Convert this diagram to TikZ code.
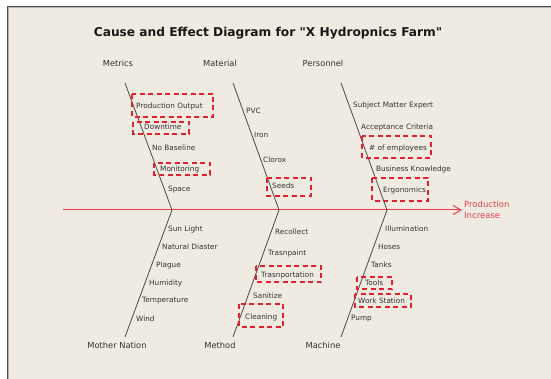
\documentclass[tikz,border=0pt]{standalone}
\usepackage{fontspec}
\setmainfont{DejaVu Sans}
\newfontfamily\titlefont{DejaVu Sans}[Ligatures=TeXOff]
\usetikzlibrary{arrows.meta}
\definecolor{bgc}{HTML}{EFEBE2}
\definecolor{txt}{HTML}{333333}
\definecolor{bonec}{HTML}{4A4A4A}
\definecolor{hlred}{HTML}{E3202C}
\definecolor{spinered}{HTML}{E8404A}
\definecolor{effred}{HTML}{E4414E}
\tikzset{
  item/.style={anchor=west,inner sep=0pt,text=txt,font=\fontsize{7.3}{8}\selectfont},
  cat/.style={inner sep=0pt,text=txt,font=\fontsize{8.3}{9}\selectfont},
  bone/.style={draw=bonec,line width=0.8pt},
  hl/.style={draw=hlred,line width=1.7pt,dash pattern=on 5pt off 3.5pt},
  spine/.style={draw=spinered,line width=1pt,-{Straight Barb[length=8pt,width=9pt,line width=1pt]}},
}
\begin{document}
\begin{tikzpicture}[x=1pt,y=-1pt]
\useasboundingbox (0,0) rectangle (551,379);
\fill[white] (0,0) rectangle (551,379);
\fill[bgc] (7,6) rectangle (551,379);
\draw[black!70,line width=1pt] (551,6.5) -- (7.5,6.5) -- (7.5,379);
\draw[black!30,line width=0.8pt] (551,7.5) -- (8.5,7.5) -- (8.5,379);

\node[inner sep=0pt,text=black!90,font=\titlefont\bfseries\fontsize{12.2}{14}\selectfont] (title) at (268,33) {Cause and Effect Diagram for "X Hydropnics Farm"};

% categories
\node[cat] (metrics) at (118,63) {Metrics};
\node[cat] (material) at (220,63) {Material};
\node[cat] (personnel) at (323,63) {Personnel};
\node[cat] (mother) at (117,345) {Mother Nation};
\node[cat] (method) at (220,345) {Method};
\node[cat] (machine) at (323,345) {Machine};

% bone coordinates
\coordinate (t1) at (125,83); \coordinate (j1) at (172,210); \coordinate (b1) at (125,337);
\coordinate (t2) at (233,83); \coordinate (j2) at (279,210); \coordinate (b2) at (233,337);
\coordinate (t3) at (341,83); \coordinate (j3) at (387,210); \coordinate (b3) at (341,337);
\coordinate (s0) at (63,210); \coordinate (s1) at (462,210);

\draw[spine] (s0) -- (s1);
\foreach \i in {1,2,3}{
  \draw[bone] (t\i) -- (j\i) -- (b\i);
}

\node[anchor=west,inner sep=0pt,text=effred,font=\fontsize{8.5}{10}\selectfont,align=left] (effect) at (464,210) {Production\\[1.2pt]Increase};

% Metrics
\foreach \t/\x/\y [count=\i] in {Production Output/136/106, Downtime/144/127, No Baseline/152/148, Monitoring/160/169, Space/168/190}
  \node[item] (me\i) at (\x,\y) {\t};
% Material
\foreach \t/\x/\y [count=\i] in {PVC/246/111, Iron/254/135, Clorox/263/160, Seeds/272/186}
  \node[item] (ma\i) at (\x,\y) {\t};
% Personnel
\foreach \t/\x/\y [count=\i] in {Subject Matter Expert/353/105, Acceptance Criteria/361/127, \# of employees/369/148, Business Knowledge/376/169, Ergonomics/383/190}
  \node[item] (pe\i) at (\x,\y) {\t};
% Mother Nation
\foreach \t/\x/\y [count=\i] in {Sun Light/168/229, Natural Diaster/162/247, Plague/156/265, Humidity/149/283, Temperature/142/301, Wind/136/319}
  \node[item] (mn\i) at (\x,\y) {\t};
% Method
\foreach \t/\x/\y [count=\i] in {Recollect/275/232, Trasnpaint/268/253, Trasnportation/261/275, Sanitize/253/296, Cleaning/245/317}
  \node[item] (mt\i) at (\x,\y) {\t};
% Machine
\foreach \t/\x/\y [count=\i] in {Illumination/385/229, Hoses/378/247, Tanks/371/265, Tools/365/283, Work Station/358/301, Pump/351/319}
  \node[item] (mc\i) at (\x,\y) {\t};

% highlight boxes
\draw[hl] (132,94) rectangle (213,117);
\draw[hl] (133,122) rectangle (189,134);
\draw[hl] (154,163) rectangle (210,175);
\draw[hl] (267,178) rectangle (311,196);
\draw[hl] (362,136) rectangle (431,158);
\draw[hl] (372,178) rectangle (428,201);
\draw[hl] (256,266) rectangle (321,282);
\draw[hl] (239,304) rectangle (283,327);
\draw[hl] (357,277) rectangle (392,289);
\draw[hl] (355,294) rectangle (411,307);
\end{tikzpicture}
\end{document}
